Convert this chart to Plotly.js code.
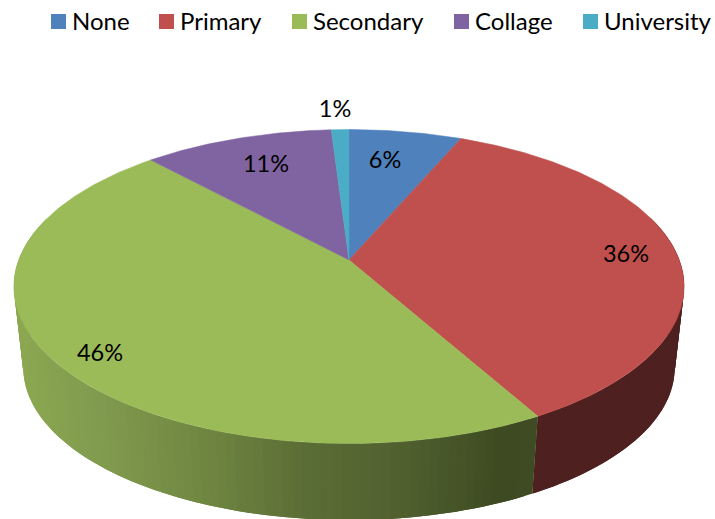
<!DOCTYPE html>
<html><head><meta charset="utf-8">
<script src="https://cdn.plot.ly/plotly-3.0.0.min.js"></script>
<style>html,body{margin:0;padding:0;background:#fff}#c{width:715px;height:519px}</style>
</head><body><div id="c"></div>
<script>
const categories = ['None','Primary','Secondary','Collage','University'];
const shares = [6.4, 35.5, 46.3, 10.8, 1.0];
const colors = ['#4f81bd','#c0504d','#9bbb59','#8064a2','#4bacc6'];
const labelX = [385, 626, 100, 266, 335];
const labelY = [162, 256, 355, 166, 111];
const legendSwatchX = [58.5, 166.5, 299.5, 461.5, 590.5];
const legendTextX = [71, 179, 312, 474, 603];
const legendY = 21.5;
const legendTextY = 20;

// Perspective view of the pie: top and bottom discs
const P = 0.169, CX = 349;
const topDisc = {A:330.3, B:152.5, Y:260};
const botDisc = {A:321, B:148, Y:342};
function project(d, frac){
  const t = 2*Math.PI*frac, u = Math.sin(t), v = -Math.cos(t), w = 1/(1-P*v);
  return [CX + d.A*u*w, d.Y + d.B*v*w, v];
}
const greenStops = [[20,[139,167,81]],[100,[128,154,78]],[200,[112,135,65]],[300,[92,110,54]],[400,[80,96,47]],[500,[62,75,34]],[540,[63,75,35]]];
function greenAt(x){
  for(let i=1;i<greenStops.length;i++){
    if(x<=greenStops[i][0]){
      const a=greenStops[i-1],b=greenStops[i],k=Math.max(0,(x-a[0])/(b[0]-a[0]));
      return 'rgb('+a[1].map((c,j)=>Math.round(c+(b[1][j]-c)*k)).join(',')+')';
    }
  }
  return 'rgb(63,75,35)';
}
const sideColor = [()=>'#3a5a80', ()=>'#4e2020', greenAt, ()=>'#5a4670', ()=>'#33788a'];

const traces = [];
const totals = shares.reduce((a,b)=>a+b,0);
let start = 0;
const ranges = shares.map(s=>{const r=[start,start+s/totals];start+=s/totals;return r;});
const font = 'Lato, sans-serif';

// side walls: each strip overlaps the next one so no seams show
ranges.forEach((r,i)=>{
  const STEP = 0.004;
  for(let f=r[0];f<r[1]-1e-9;f+=STEP){
    const g=Math.min(f+STEP*2,r[1]);
    const mid=Math.min(f+STEP,r[1]);
    const a=project(topDisc,f),b=project(topDisc,g),c=project(botDisc,g),d=project(botDisc,f);
    const m=project(topDisc,mid),n=project(botDisc,mid);
    if(a[2]<-0.25&&b[2]<-0.25) continue;
    const col=sideColor[i]((a[0]+m[0])/2);
    traces.push({type:'scatter',mode:'none',x:[a[0],m[0],b[0],c[0],n[0],d[0],a[0]],y:[a[1],m[1],b[1],c[1],n[1],d[1],a[1]],
      fill:'toself',fillcolor:col,showlegend:false,hoverinfo:'skip'});
  }
});
// top slices
ranges.forEach((r,i)=>{
  const xs=[CX],ys=[topDisc.Y];
  const n=Math.max(4,Math.ceil((r[1]-r[0])/0.002));
  for(let k=0;k<=n;k++){const p=project(topDisc,r[0]+(r[1]-r[0])*k/n);xs.push(p[0]);ys.push(p[1]);}
  xs.push(CX);ys.push(topDisc.Y);
  traces.push({type:'scatter',mode:'lines',x:xs,y:ys,fill:'toself',fillcolor:colors[i],
    line:{color:colors[i],width:0.5},showlegend:false,name:categories[i],
    text:categories[i],hoverinfo:'text'});
});
// legend swatches
traces.push({type:'scatter',mode:'markers',x:legendSwatchX,y:categories.map(()=>legendY),
  marker:{symbol:'square',size:15,color:colors},showlegend:false,hoverinfo:'skip',cliponaxis:false});
// percentage labels
traces.push({type:'scatter',mode:'text',x:labelX,y:labelY,
  text:shares.map(s=>Math.round(s)+'%'),textposition:'middle center',
  textfont:{family:font,size:23.5,color:'#000'},showlegend:false,hoverinfo:'skip'});

const layout = {
  width:715,height:519,margin:{l:0,r:0,t:0,b:0},
  paper_bgcolor:'#fff',plot_bgcolor:'#fff',showlegend:false,
  xaxis:{range:[0,715],visible:false,fixedrange:true},
  yaxis:{range:[519,0],visible:false,fixedrange:true},
  annotations:categories.map((c,i)=>({text:c,x:legendTextX[i],y:legendTextY,xref:'x',yref:'y',
    xanchor:'left',yanchor:'middle',showarrow:false,borderpad:0,
    font:{family:font,size:24,color:'#000'}}))
};
Plotly.newPlot('c',traces,layout,{displayModeBar:false,staticPlot:true});
</script></body></html>
